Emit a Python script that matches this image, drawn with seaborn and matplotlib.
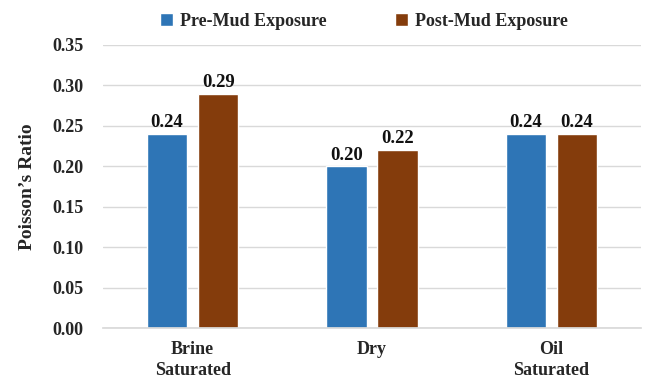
import matplotlib
matplotlib.use("Agg")
import matplotlib.pyplot as plt
import seaborn as sns
import pandas as pd

categories = ["Brine\nSaturated", "Dry", "Oil\nSaturated"]
series_names = ["Pre-Mud Exposure", "Post-Mud Exposure"]
pre_mud = [0.24, 0.20, 0.24]
post_mud = [0.29, 0.22, 0.24]
y_ticks = [0.00, 0.05, 0.10, 0.15, 0.20, 0.25, 0.30, 0.35]

df = pd.DataFrame({
    "Condition": categories * 2,
    "Series": [series_names[0]] * 3 + [series_names[1]] * 3,
    "Value": pre_mud + post_mud,
})

sns.set_theme(style="white")
plt.rcParams["font.family"] = ["Liberation Serif", "DejaVu Serif"]
plt.rcParams["font.weight"] = "bold"

fig = plt.figure(figsize=(6.48, 3.78), dpi=100)
ax = fig.add_axes([0.159, 0.132, 0.83, 0.749])

palette = {series_names[0]: "#2E75B6", series_names[1]: "#843C0C"}
sns.barplot(data=df, x="Condition", y="Value", hue="Series", order=categories,
            hue_order=series_names, palette=palette, width=0.57, gap=0.21,
            saturation=1, ax=ax, legend=True)

for cont in ax.containers:
    ax.bar_label(cont, labels=[f"{v:.2f}" for v in cont.datavalues], padding=2,
                 fontsize=13.5, fontweight="bold", color="#111111")

ax.set_ylim(0, 0.35)
ax.set_xlim(-0.5, 2.5)
ax.set_yticks(y_ticks)
ax.set_yticklabels([f"{t:.2f}" for t in y_ticks], fontsize=13, fontweight="bold")
ax.tick_params(axis="x", labelsize=13, length=0, pad=9)
ax.tick_params(axis="y", length=0, pad=14)
for lbl in ax.get_xticklabels():
    lbl.set_fontweight("bold")
    lbl.set_linespacing(1.3)
ax.yaxis.grid(True, color="#D9D9D9", linewidth=1)
ax.set_axisbelow(True)
for s in ["top", "right", "left"]:
    ax.spines[s].set_visible(False)
ax.spines["bottom"].set_color("#D9D9D9")
ax.set_xlabel("")
ax.set_ylabel("Poisson’s Ratio", fontsize=14, fontweight="bold", labelpad=12)

leg = ax.legend(loc="upper center", bbox_to_anchor=(0.485, 1.17), ncol=2, frameon=False,
                fontsize=13, handlelength=0.7, handleheight=0.7,
                columnspacing=3.8, handletextpad=0.4)
for t in leg.get_texts():
    t.set_fontweight("bold")

fig.savefig("out.png", dpi=100)
